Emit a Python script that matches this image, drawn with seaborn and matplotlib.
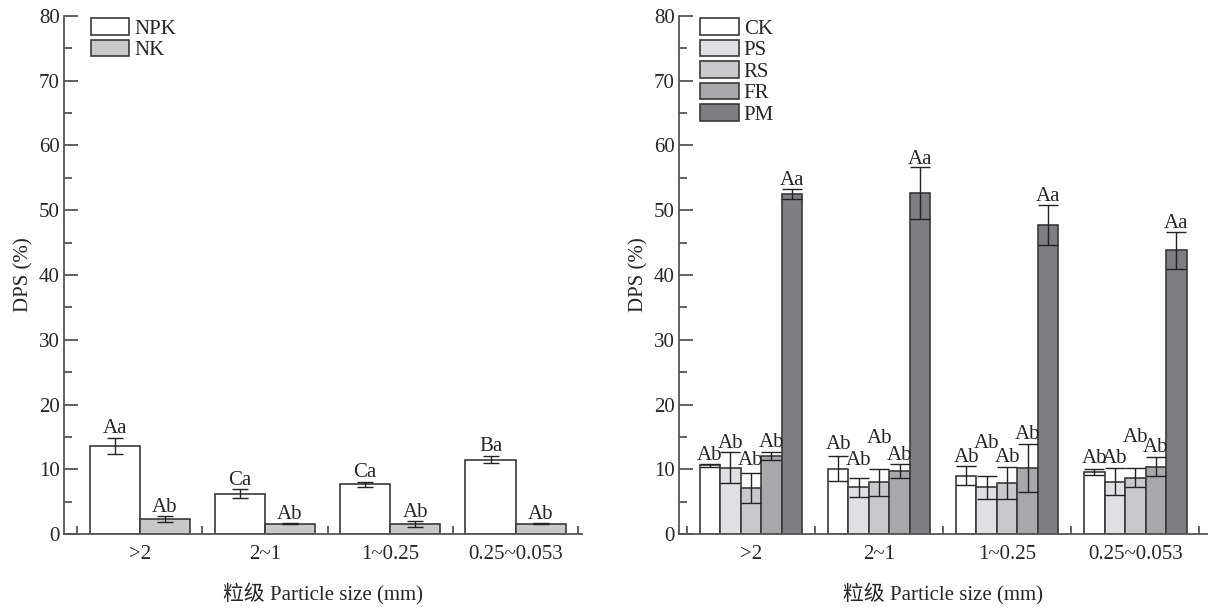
import numpy as np
import pandas as pd
import matplotlib
matplotlib.use('Agg')
import matplotlib.pyplot as plt
import seaborn as sns
from matplotlib.ticker import MultipleLocator, FixedLocator

# data
sizes = ['>2', '2~1', '1~0.25', '0.25~0.053']

left_groups = ['NPK', 'NK']
npk_mean = [13.6, 6.2, 7.7, 11.5]
npk_err = [1.25, 0.7, 0.4, 0.55]
npk_lab = ['Aa', 'Ca', 'Ca', 'Ba']
nk_mean = [2.3, 1.6, 1.5, 1.6]
nk_err = [0.5, 0.05, 0.45, 0.1]
nk_lab = ['Ab', 'Ab', 'Ab', 'Ab']

right_groups = ['CK', 'PS', 'RS', 'FR', 'PM']
ck_mean = [10.6, 10.1, 9.0, 9.6]
ck_err = [0.2, 1.9, 1.5, 0.5]
ps_mean = [10.2, 7.2, 7.2, 8.1]
ps_err = [2.4, 1.5, 1.8, 2.1]
rs_mean = [7.1, 8.0, 7.9, 8.7]
rs_err = [2.3, 2.1, 2.5, 1.5]
fr_mean = [12.0, 9.7, 10.2, 10.4]
fr_err = [0.6, 1.1, 3.7, 1.5]
pm_mean = [52.5, 52.7, 47.7, 43.8]
pm_err = [0.8, 4.0, 3.1, 2.8]
ck_lab = ['Ab', 'Ab', 'Ab', 'Ab']
ps_lab = ['Ab', 'Ab', 'Ab', 'Ab']
rs_lab = ['Ab', 'Ab', 'Ab', 'Ab']
fr_lab = ['Ab', 'Ab', 'Ab', 'Ab']
pm_lab = ['Aa', 'Aa', 'Aa', 'Aa']

# how far each letter label sits above its error bar (staggered like the original)
left_lift = [[0.7] * 4, [0.6] * 4]
right_lift = [[0.6, 1.1, 0.6, 0.9],
              [0.7, 2.0, 4.3, 0.8],
              [1.3, 3.9, 0.7, 4.0],
              [0.8, 0.6, 0.8, 0.7],
              [0.6, 0.4, 0.6, 0.6]]

left_colors = ['#ffffff', '#c8c8c8']
right_colors = ['#ffffff', '#e0e0e2', '#c9c9cb', '#a8a8aa', '#7f7f83']

sns.set_style('white')
plt.rcParams['font.family'] = ['Liberation Serif', 'Noto Sans CJK SC']
plt.rcParams['font.size'] = 15

axis_col = '#555555'
edge_col = '#3a3a3a'

fig = plt.figure(figsize=(12.15, 6.09), dpi=100)
ax1 = fig.add_axes([64 / 1215, 1 - 534 / 609, 518 / 1215, 518 / 609])
ax2 = fig.add_axes([679 / 1215, 1 - 534 / 609, 528 / 1215, 518 / 609])


def draw(ax, groups, means, errs, labels, lifts, colors, capsize, xlim, leg_x):
    df = pd.DataFrame({
        'size': np.repeat(sizes, len(groups)),
        'group': groups * len(sizes),
        'value': np.array(means).T.ravel(),
    })
    sns.barplot(data=df, x='size', y='value', hue='group', order=sizes,
                hue_order=groups, palette=colors, errorbar=None,
                edgecolor=edge_col, linewidth=1.2, saturation=1, width=0.8,
                ax=ax)
    for cont, m, e, lab, lf in zip(ax.containers, means, errs, labels, lifts):
        xs = [p.get_x() + p.get_width() / 2 for p in cont.patches]
        ax.errorbar(xs, m, yerr=e, fmt='none', ecolor='#222222',
                    elinewidth=1.0, capsize=capsize, capthick=1.0)
        for x, v, er, t, d in zip(xs, m, e, lab, lf):
            ax.text(x, v + er + d, t, ha='center', va='baseline', fontsize=15)
    ax.set_ylim(0, 80)
    ax.set_xlim(*xlim)
    ax.yaxis.set_major_locator(MultipleLocator(10))
    ax.yaxis.set_minor_locator(MultipleLocator(5))
    ax.xaxis.set_minor_locator(FixedLocator([-0.5, 0.5, 1.5, 2.5, 3.5]))
    ax.tick_params(axis='y', which='major', direction='in', length=10,
                   width=1.3, color=axis_col, labelsize=15, pad=3, left=True)
    ax.tick_params(axis='y', which='minor', direction='in', length=6,
                   width=1.3, color=axis_col, left=True)
    ax.tick_params(axis='x', which='major', length=0, labelsize=15, pad=8)
    ax.tick_params(axis='x', which='minor', direction='in', length=6,
                   width=1.3, color=axis_col, bottom=True)
    for s in ['top', 'right']:
        ax.spines[s].set_visible(False)
    for s in ['left', 'bottom']:
        ax.spines[s].set_color(axis_col)
        ax.spines[s].set_linewidth(1.3)
    ax.set_xlabel('粒级 Particle size (mm)', fontsize=15, labelpad=14)
    ax.set_ylabel('DPS (%)', fontsize=15, labelpad=4)
    leg = ax.legend(loc='upper left', bbox_to_anchor=(leg_x, 1.0), frameon=False,
                    handlelength=1.85, handleheight=0.85, handletextpad=0.25,
                    labelspacing=0.05, borderaxespad=0, borderpad=0.1,
                    fontsize=15)
    for h in leg.legend_handles:
        h.set_edgecolor(edge_col)
        h.set_linewidth(1.2)


draw(ax1, left_groups, [npk_mean, nk_mean], [npk_err, nk_err],
     [npk_lab, nk_lab], left_lift, left_colors, 6, (-0.604, 3.53), 0.048)
draw(ax2, right_groups, [ck_mean, ps_mean, rs_mean, fr_mean, pm_mean],
     [ck_err, ps_err, rs_err, fr_err, pm_err],
     [ck_lab, ps_lab, rs_lab, fr_lab, pm_lab], right_lift, right_colors, 7,
     (-0.562, 3.56), 0.036)

fig.savefig('out.png', dpi=100)
